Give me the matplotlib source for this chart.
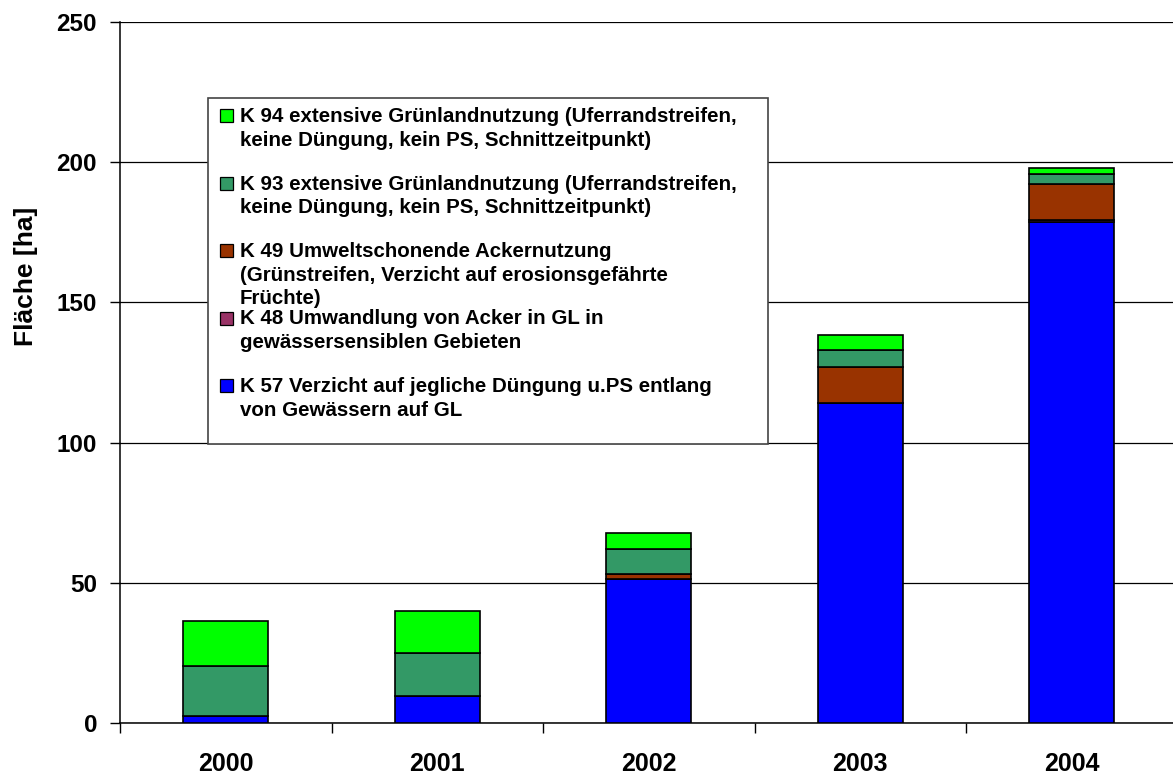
import matplotlib
matplotlib.use("Agg")
import matplotlib.pyplot as plt
from matplotlib.patches import Rectangle
from matplotlib.ticker import FixedLocator
import numpy as np

plt.rcParams["font.family"] = ["Liberation Sans", "DejaVu Sans"]
plt.rcParams["font.weight"] = "bold"

years = ["2000", "2001", "2002", "2003", "2004"]

# area per measure [ha], stacked bottom to top
k57 = [2.5, 9.7, 51.4, 114.0, 178.8]
k48 = [0.0, 0.0, 0.0, 0.0, 0.6]
k49 = [0.0, 0.0, 1.9, 13.1, 12.7]
k93 = [17.8, 15.1, 8.9, 5.8, 3.7]
k94 = [16.2, 15.2, 5.7, 5.6, 2.0]

series = [k57, k48, k49, k93, k94]
colors = ["#0000ff", "#993366", "#993300", "#339966", "#00ff00"]

legend_labels = [
    ["K 94 extensive Grünlandnutzung (Uferrandstreifen,",
     "keine Düngung, kein PS, Schnittzeitpunkt)"],
    ["K 93 extensive Grünlandnutzung (Uferrandstreifen,",
     "keine Düngung, kein PS, Schnittzeitpunkt)"],
    ["K 49 Umweltschonende Ackernutzung",
     "(Grünstreifen, Verzicht auf erosionsgefährte",
     "Früchte)"],
    ["K 48 Umwandlung von Acker in GL in",
     "gewässersensiblen Gebieten"],
    ["K 57 Verzicht auf jegliche Düngung u.PS entlang",
     "von Gewässern auf GL"],
]
legend_colors = ["#00ff00", "#339966", "#993300", "#993366", "#0000ff"]

W, H = 1173, 777
fig = plt.figure(figsize=(W / 100, H / 100), dpi=100)


def px(x, y):
    """pixel position (from top-left) -> figure fraction"""
    return x / W, 1 - y / H


# plot area: 120..1177 px horizontally, 22..723 px vertically
ax = fig.add_axes([120 / W, (H - 723) / H, 1057.5 / W, 701 / H])

x = np.arange(len(years))
bottom = np.zeros(len(years))
for vals, c in zip(series, colors):
    ax.bar(x, vals, width=0.40, bottom=bottom, color=c,
           edgecolor="black", linewidth=1.2, zorder=3)
    bottom += np.array(vals)

ax.set_xlim(-0.5, len(years) - 0.5)
ax.set_ylim(0, 250)
ax.set_yticks([0, 50, 100, 150, 200, 250])
ax.yaxis.grid(True, color="black", linewidth=0.9, zorder=0)
ax.set_axisbelow(True)

for s in ["top", "right"]:
    ax.spines[s].set_visible(False)
ax.spines["left"].set_linewidth(1.1)
ax.spines["bottom"].set_linewidth(1.1)

ax.set_xticks(x)
ax.set_xticklabels(years, fontsize=18, fontweight="bold")
ax.xaxis.set_minor_locator(FixedLocator(np.arange(-0.5, len(years), 1.0)))
ax.tick_params(axis="x", which="major", length=0, pad=21)
ax.tick_params(axis="x", which="minor", length=7.5, width=1.0, direction="out")
ax.tick_params(axis="y", length=7.5, width=1.0, direction="out", pad=9,
               labelsize=17.5)
for lbl in ax.get_yticklabels():
    lbl.set_fontweight("bold")

fig.text(*px(26, 276), "Fläche [ha]", rotation=90, fontsize=19,
         fontweight="bold", ha="center", va="center")

# legend box drawn by hand so the three-line entry can run into the next one
box_l, box_t, box_r, box_b = 208, 98, 768, 444
fx0, fy0 = px(box_l, box_b)
fx1, fy1 = px(box_r, box_t)
fig.patches.append(Rectangle((fx0, fy0), fx1 - fx0, fy1 - fy0,
                             transform=fig.transFigure, facecolor="white",
                             edgecolor="#444444", linewidth=1.2, zorder=5))

first_base, entry_step, line_step = 122, 67.5, 23.5
for i, (lines, c) in enumerate(zip(legend_labels, legend_colors)):
    base = first_base + i * entry_step
    sx, sy = px(220, base)
    fig.patches.append(Rectangle((sx, sy), 13 / W, 13 / H,
                                 transform=fig.transFigure, facecolor=c,
                                 edgecolor="black", linewidth=0.9, zorder=6))
    for j, line in enumerate(lines):
        fig.text(*px(240, base + j * line_step), line, fontsize=14.8,
                 fontweight="bold", ha="left", va="baseline", zorder=7)

fig.savefig("out.png", dpi=100)
